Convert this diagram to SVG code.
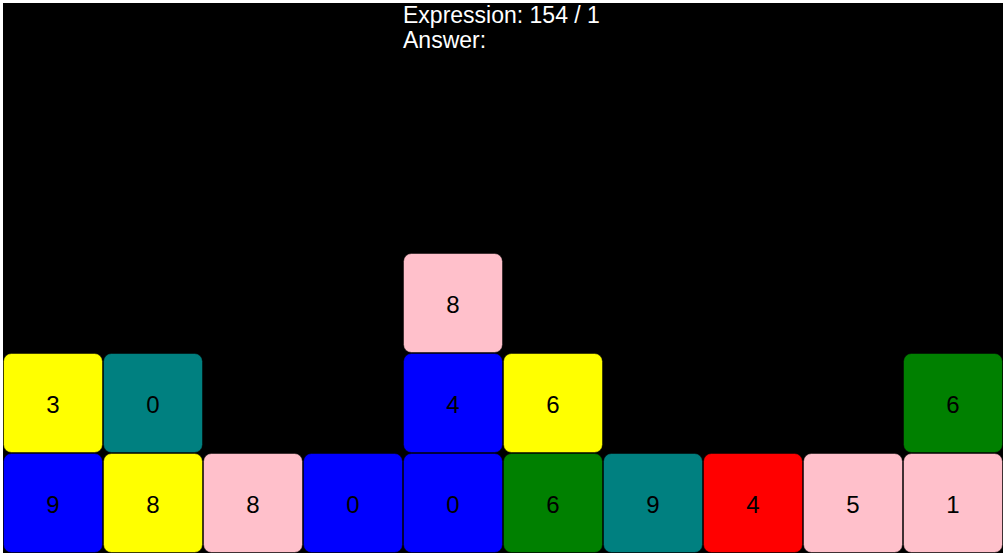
<svg xmlns="http://www.w3.org/2000/svg" width="1008" height="557" viewBox="0 0 1008 557">
<style>
.t{stroke:#000;stroke-opacity:0.5;stroke-width:1}
.n{font-family:"Liberation Sans",Arial,sans-serif;font-size:24px;fill:#000;text-anchor:middle}
.h{font-family:"Liberation Sans",Arial,sans-serif;font-size:23px;fill:#fff}
</style>
<rect x="0" y="0" width="1008" height="557" fill="#fff"/>
<rect x="3" y="3" width="1000" height="550" fill="#000"/>
<g id="header">
<text class="h" x="403" y="23">Expression: 154 / 1</text>
<text class="h" x="403" y="48">Answer:</text>
</g>
<g id="connectors"/>
<g id="tile-r0c0"><rect class="t" x="3.5" y="453.5" width="99" height="99" rx="8" fill="#0000ff"/><text class="n" x="53" y="513">9</text></g>
<g id="tile-r0c1"><rect class="t" x="103.5" y="453.5" width="99" height="99" rx="8" fill="#ffff00"/><text class="n" x="153" y="513">8</text></g>
<g id="tile-r0c2"><rect class="t" x="203.5" y="453.5" width="99" height="99" rx="8" fill="#ffc0cb"/><text class="n" x="253" y="513">8</text></g>
<g id="tile-r0c3"><rect class="t" x="303.5" y="453.5" width="99" height="99" rx="8" fill="#0000ff"/><text class="n" x="353" y="513">0</text></g>
<g id="tile-r0c4"><rect class="t" x="403.5" y="453.5" width="99" height="99" rx="8" fill="#0000ff"/><text class="n" x="453" y="513">0</text></g>
<g id="tile-r0c5"><rect class="t" x="503.5" y="453.5" width="99" height="99" rx="8" fill="#008000"/><text class="n" x="553" y="513">6</text></g>
<g id="tile-r0c6"><rect class="t" x="603.5" y="453.5" width="99" height="99" rx="8" fill="#008080"/><text class="n" x="653" y="513">9</text></g>
<g id="tile-r0c7"><rect class="t" x="703.5" y="453.5" width="99" height="99" rx="8" fill="#ff0000"/><text class="n" x="753" y="513">4</text></g>
<g id="tile-r0c8"><rect class="t" x="803.5" y="453.5" width="99" height="99" rx="8" fill="#ffc0cb"/><text class="n" x="853" y="513">5</text></g>
<g id="tile-r0c9"><rect class="t" x="903.5" y="453.5" width="99" height="99" rx="8" fill="#ffc0cb"/><text class="n" x="953" y="513">1</text></g>
<g id="tile-r1c0"><rect class="t" x="3.5" y="353.5" width="99" height="99" rx="8" fill="#ffff00"/><text class="n" x="53" y="413">3</text></g>
<g id="tile-r1c1"><rect class="t" x="103.5" y="353.5" width="99" height="99" rx="8" fill="#008080"/><text class="n" x="153" y="413">0</text></g>
<g id="tile-r1c4"><rect class="t" x="403.5" y="353.5" width="99" height="99" rx="8" fill="#0000ff"/><text class="n" x="453" y="413">4</text></g>
<g id="tile-r1c5"><rect class="t" x="503.5" y="353.5" width="99" height="99" rx="8" fill="#ffff00"/><text class="n" x="553" y="413">6</text></g>
<g id="tile-r1c9"><rect class="t" x="903.5" y="353.5" width="99" height="99" rx="8" fill="#008000"/><text class="n" x="953" y="413">6</text></g>
<g id="tile-r2c4"><rect class="t" x="403.5" y="253.5" width="99" height="99" rx="8" fill="#ffc0cb"/><text class="n" x="453" y="313">8</text></g>
</svg>
